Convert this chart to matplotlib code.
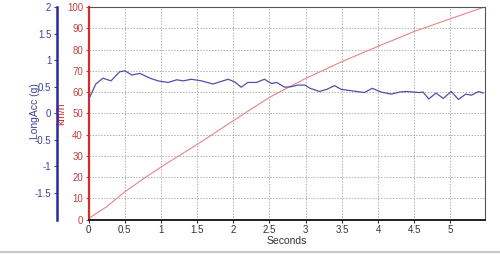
import numpy as np
import matplotlib
matplotlib.use("Agg")
import matplotlib.pyplot as plt
from matplotlib.lines import Line2D

plt.rcParams['font.family'] = ['Liberation Sans', 'DejaVu Sans']

# vitesse (km/h)
t_speed = [0, 0.25, 0.5, 0.75, 1.0, 1.5, 2.0, 2.5, 2.75, 3.0, 3.5, 4.0, 4.5, 5.0, 5.47]
speed = [0.5, 6, 13, 19, 24.7, 35.3, 46.5, 57.5, 62, 66.4, 74.3, 81.5, 88.5, 94.5, 100]

# acceleration longitudinale (g)
t_acc = [0, 0.10, 0.20, 0.31, 0.43, 0.50, 0.60, 0.71, 0.85, 0.96, 1.10, 1.22, 1.31,
         1.42, 1.56, 1.72, 1.81, 1.93, 2.02, 2.11, 2.20, 2.32, 2.43, 2.53, 2.60,
         2.71, 2.80, 2.89, 2.99, 3.06, 3.19, 3.29, 3.40, 3.49, 3.65, 3.81, 3.92,
         4.04, 4.18, 4.30, 4.39, 4.57, 4.62, 4.70, 4.80, 4.90, 5.01, 5.11, 5.21,
         5.29, 5.39, 5.45]
acc = [0.25, 0.55, 0.66, 0.61, 0.78, 0.80, 0.72, 0.75, 0.66, 0.61, 0.58, 0.63, 0.61,
       0.64, 0.61, 0.55, 0.59, 0.64, 0.59, 0.49, 0.58, 0.58, 0.64, 0.56, 0.58,
       0.49, 0.50, 0.53, 0.53, 0.47, 0.41, 0.45, 0.52, 0.45, 0.42, 0.39, 0.47,
       0.40, 0.36, 0.40, 0.41, 0.39, 0.40, 0.27, 0.38, 0.28, 0.41, 0.26, 0.36,
       0.34, 0.41, 0.38]

red = '#d42a2a'
blue = '#2a2aa0'

fig = plt.figure(figsize=(5, 2.54), dpi=100)
ax = fig.add_axes([0.177, 0.1358, 0.792, 0.8366])

# axe km/h
ax.plot(t_speed, speed, color='#e58585', lw=0.8)
ax.set_ylim(0, 100)
ax.set_xticks(np.arange(0, 5.01, 0.5))
ax.set_xticklabels(['%g' % v for v in np.arange(0, 5.01, 0.5)])
ax.set_yticks(np.arange(0, 101, 10))
ax.grid(True, color='#b0b0b0', ls=(0, (1.5, 1.5)), lw=0.7)
ax.tick_params(axis='y', colors='#c84040', labelsize=7, length=2.5, pad=1.5)
ax.tick_params(axis='x', colors='#333333', labelsize=7, length=2, pad=2)
ax.spines['left'].set_color(red)
ax.spines['left'].set_linewidth(1.6)
ax.spines['bottom'].set_color('#222222')
ax.spines['bottom'].set_linewidth(1.4)
ax.spines['top'].set_color('#555555')
ax.spines['right'].set_color('#555555')
ax.set_xlabel('Seconds', fontsize=7.5, color='#333333', labelpad=1)
ax.set_ylabel('km/h', fontsize=7.5, color=red)
ax.yaxis.set_label_coords(-0.056, 0.50)

# axe LongAcc
ax2 = ax.twinx()
ax2.plot(t_acc, acc, color='#5050a8', lw=0.9)
ax2.set_ylim(-2, 2)
ax2.yaxis.tick_left()
ax2.yaxis.set_label_position('left')
ax2.spines['left'].set_position(('outward', 22.7))
ax2.spines['left'].set_visible(True)
ax2.spines['left'].set_color(blue)
ax2.spines['left'].set_linewidth(1.8)
for s in ['top', 'bottom', 'right']:
    ax2.spines[s].set_visible(False)
ax2.set_yticks(np.arange(-1.5, 2.01, 0.5))
ax2.set_yticklabels(['%g' % v for v in np.arange(-1.5, 2.01, 0.5)])
ax2.tick_params(axis='y', colors='#404098', labelsize=7, length=2.5, pad=1.5)
ax2.set_ylabel('LongAcc (g)', fontsize=7.5, color='#404098')
ax2.yaxis.set_label_coords(-0.122, 0.51)

ax.set_xlim(0, 5.47)

# bordure grise en bas
fig.add_artist(Line2D([0, 1], [0.008, 0.008], color='#c8c8c8', lw=1.5,
                      transform=fig.transFigure))

fig.savefig('out.png', dpi=100)
